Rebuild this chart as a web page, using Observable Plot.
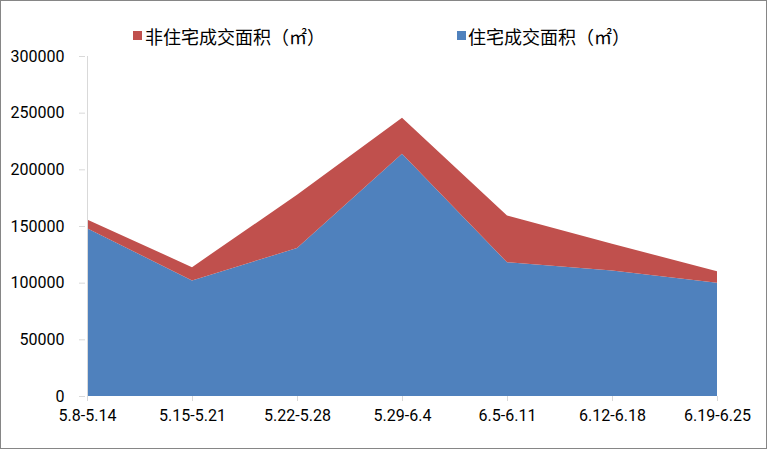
<!DOCTYPE html>
<html>
<head>
<meta charset="utf-8">
<script src="https://cdn.jsdelivr.net/npm/d3@7"></script>
<script src="https://cdn.jsdelivr.net/npm/@observablehq/plot@0.6"></script>
<style>
  html, body { margin: 0; padding: 0; background: #fff; }
  #wrap { position: relative; width: 767px; height: 449px; overflow: hidden; background: #fff; }
  #border { position: absolute; left: 0; top: 0; width: 767px; height: 449px; box-sizing: border-box; border: 1px solid #868686; pointer-events: none; }
  .leg { position: absolute; top: 24px; height: 24px; line-height: 24px; font-family: "Noto Sans CJK SC", sans-serif; font-size: 18px; color: #000; white-space: nowrap; }
  .sw { position: absolute; width: 9px; height: 9px; top: 31px; }
  svg { font-family: Roboto, sans-serif; }
</style>
</head>
<body>
<div id="wrap">
  <div id="chart"></div>
  <div class="sw" style="left:133px;background:#C0504D"></div>
  <div class="leg" style="left:145px">非住宅成交面积（㎡）</div>
  <div class="sw" style="left:457px;background:#4F81BD"></div>
  <div class="leg" style="left:468px">住宅成交面积（㎡）</div>
  <div id="border"></div>
</div>
<script>
const weeks = ["5.8-5.14", "5.15-5.21", "5.22-5.28", "5.29-6.4", "6.5-6.11", "6.12-6.18", "6.19-6.25"];
const residential = [148000, 102000, 130500, 213800, 118000, 110800, 100000];
const nonResidential = [7800, 11700, 47100, 31700, 41300, 23600, 10000];
const seriesNames = ["住宅成交面积（㎡）", "非住宅成交面积（㎡）"];
const seriesColors = ["#4F81BD", "#C0504D"];
const yTicks = [0, 50000, 100000, 150000, 200000, 250000, 300000];

const data = [];
weeks.forEach((w, i) => {
  data.push({week: w, series: seriesNames[0], value: residential[i]});
  data.push({week: w, series: seriesNames[1], value: nonResidential[i]});
});

const chart = Plot.plot({
  width: 767,
  height: 449,
  marginLeft: 85,
  marginRight: 48,
  marginTop: 56,
  marginBottom: 53,
  style: {fontFamily: "Roboto, sans-serif", fontSize: "16px", color: "#000", background: "transparent"},
  x: {type: "point", domain: weeks, padding: 0, label: null},
  y: {domain: [0, 300000], label: null},
  color: {domain: seriesNames, range: seriesColors},
  marks: [
    Plot.areaY(data, {x: "week", y: "value", fill: "series", order: seriesNames}),
    Plot.ruleX([weeks[0]], {stroke: "#D9D9D9"}),
    Plot.axisY({ticks: yTicks, tickFormat: d3.format("d"), tickSize: 6, tickPadding: 15, stroke: "#D9D9D9", fill: "#000", label: null}),
    Plot.axisX({tickSize: 5, tickPadding: 8, stroke: "#D9D9D9", fill: "#000", label: null})
  ]
});
document.getElementById("chart").appendChild(chart);
</script>
</body>
</html>
